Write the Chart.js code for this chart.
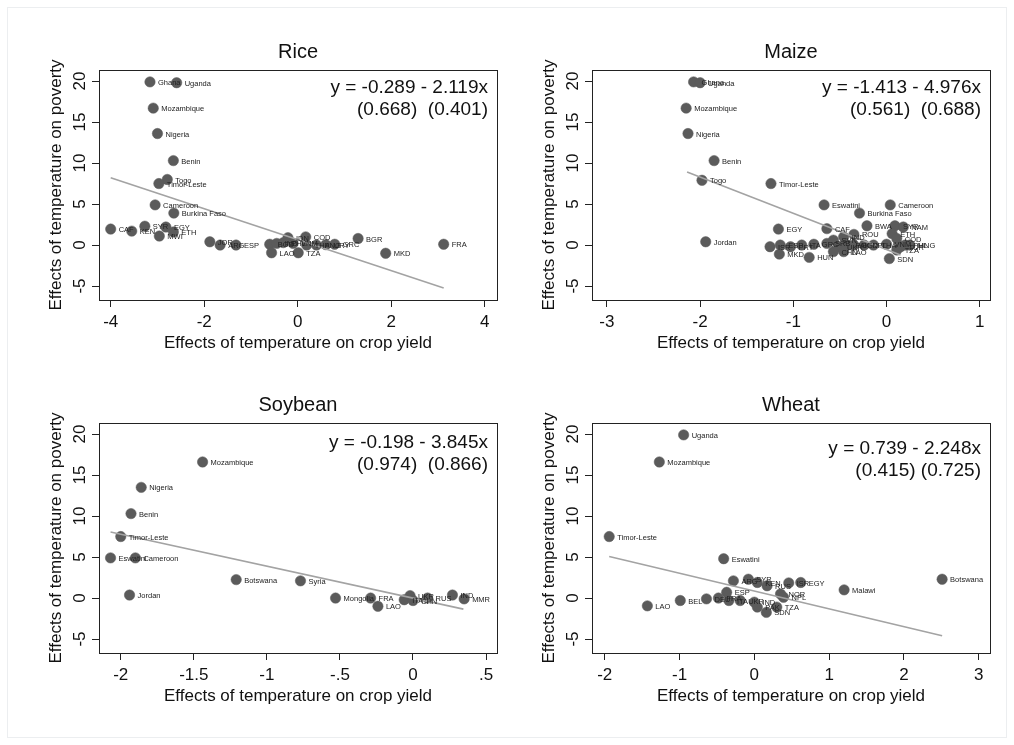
<!DOCTYPE html>
<html>
<head>
<meta charset="utf-8">
<script src="https://cdn.jsdelivr.net/npm/chart.js@4.4.1/dist/chart.umd.min.js"></script>
<style>
  body { margin: 0; background: #fff; }
  #fig { position: relative; width: 1014px; height: 745px; background: #fff; overflow: hidden; }
  #edge { position: absolute; left: 7px; top: 7px; width: 998px; height: 729px; border: 1px solid #eceef0; }
  canvas { position: absolute; }
</style>
</head>
<body>
<div id="fig">
  <div id="edge"></div>
  <canvas id="rice" width="507" height="380" style="left:0;top:0"></canvas>
  <canvas id="maize" width="507" height="380" style="left:493px;top:0"></canvas>
  <canvas id="soybean" width="507" height="380" style="left:0;top:353px"></canvas>
  <canvas id="wheat" width="507" height="380" style="left:493px;top:353px"></canvas>
</div>
<script>
// ---- data ----
const yTicks = [-5, 0, 5, 10, 15, 20];

const riceNames = ['Ghana','Uganda','Mozambique','Nigeria','Benin','Togo','Timor-Leste','Cameroon','Burkina Faso',
  'CAF','KEN','SYR','EGY','MWI','ETH','JOR','ARG','ESP','BGD','IND','PHL','IDN','VNM','LAO','TZA','COD','THA',
  'PNG','URY','GRC','BGR','MKD','FRA'];
const riceX = [-3.16,-2.59,-3.09,-3.0,-2.66,-2.79,-2.97,-3.05,-2.65,
  -4.0,-3.55,-3.27,-2.82,-2.96,-2.66,-1.88,-1.66,-1.32,-0.6,-0.45,-0.31,-0.21,-0.1,-0.56,0.01,0.17,0.19,
  0.4,0.6,0.79,1.29,1.88,3.12];
const riceY = [19.9,19.8,16.7,13.6,10.3,8.0,7.5,4.9,3.9,
  1.95,1.7,2.3,2.2,1.1,1.6,0.4,0.0,0.0,0.1,0.2,0.3,0.9,0.2,-0.94,-0.94,1.0,0.0,
  0.0,0.05,0.1,0.8,-1.0,0.1];
const riceFitX = [-4.0, 3.12];
const riceFitY = [8.2, -5.25];
const riceXTicks = [-4, -2, 0, 2, 4];
const riceXTickLabels = ['-4', '-2', '0', '2', '4'];

const maizeNames = ['Ghana','Uganda','Mozambique','Nigeria','Benin','Togo','Timor-Leste','Eswatini','Cameroon','Burkina Faso',
  'EGY','Jordan','BWA','SYR','NAM','CAF','ROU','ETH','COD','ISR','ESP','PRT','ITA','GRC','SRB','SVN','UKR','IND',
  'PAK','BGD','NPL','THA','VNM','TUR','PHL','MNG','MKD','HUN','LAO','CHN','SDN','TZA'];
const maizeX = [-2.07,-2.0,-2.15,-2.13,-1.85,-1.98,-1.24,-0.67,0.04,-0.29,
  -1.16,-1.94,-0.21,0.09,0.18,-0.64,-0.35,0.06,0.11,-1.25,-1.14,-1.03,-0.91,-0.78,-0.64,-0.57,-0.51,-0.46,
  -0.42,-0.35,-0.24,-0.14,0.0,0.15,0.2,0.25,-1.15,-0.83,-0.46,-0.57,0.03,0.11];
const maizeY = [19.9,19.8,16.7,13.6,10.3,7.9,7.5,4.9,4.9,3.9,
  1.95,0.4,2.35,2.35,2.2,2.0,1.3,1.4,0.8,-0.2,0.0,-0.2,0.0,0.1,0.2,0.6,-0.2,1.0,
  0.0,0.0,0.0,0.0,0.1,-0.2,0.0,0.0,-1.1,-1.5,-0.8,-0.8,-1.65,-0.6];
const maizeFitX = [-2.14, 0.15];
const maizeFitY = [8.9, -1.2];
const maizeXTicks = [-3, -2, -1, 0, 1];
const maizeXTickLabels = ['-3', '-2', '-1', '0', '1'];

const soyNames = ['Mozambique','Nigeria','Benin','Timor-Leste','Eswatini','Cameroon','Jordan','Botswana','Syria',
  'Mongolia','FRA','LAO','ITA','UKR','CHN','RUS','IND','MMR'];
const soyX = [-1.44,-1.86,-1.93,-2.0,-2.07,-1.90,-1.94,-1.21,-0.77,-0.53,-0.29,-0.24,-0.06,-0.02,0.0,0.1,0.27,0.35];
const soyY = [16.6,13.5,10.3,7.5,4.9,4.9,0.37,2.25,2.1,0.0,0.0,-1.0,-0.2,0.3,-0.3,0.0,0.37,-0.1];
const soyFitX = [-2.07, 0.345];
const soyFitY = [8.06, -1.35];
const soyXTicks = [-2, -1.5, -1, -0.5, 0, 0.5];
const soyXTickLabels = ['-2', '-1.5', '-1', '-.5', '0', '.5'];

const wheatNames = ['Uganda','Mozambique','Timor-Leste','Eswatini','Botswana','Malawi','LAO','BEL','DEU','FRA',
  'ESP','ARG','SYR','KEN','RUS','NOR','ISR','EGY','ITA','UKR','IND','PAK','SDN','TZA','NPL'];
const wheatX = [-0.945,-1.27,-1.94,-0.41,2.51,1.2,-1.43,-0.99,-0.64,-0.48,
  -0.37,-0.28,-0.08,0.04,0.17,0.35,0.46,0.62,-0.34,-0.19,0.0,0.04,0.16,0.3,0.39];
const wheatY = [19.9,16.6,7.5,4.8,2.3,1.0,-0.95,-0.3,-0.1,0.0,
  0.7,2.1,2.3,1.9,1.5,0.5,1.85,1.9,-0.3,-0.3,-0.5,-1.1,-1.75,-1.1,0.1];
const wheatFitX = [-1.94, 2.51];
const wheatFitY = [5.07, -4.6];
const wheatXTicks = [-2, -1, 0, 1, 2, 3];
const wheatXTickLabels = ['-2', '-1', '0', '1', '2', '3'];

const FONT = '"Liberation Sans", Arial, Helvetica, sans-serif';
Chart.defaults.font.family = FONT;

// point labels, plot frame and the fitted equation
const decorations = {
  id: 'decorations',
  afterDatasetsDraw(chart, args, opts) {
    const ctx = chart.ctx;
    const a = chart.chartArea;
    const meta = chart.getDatasetMeta(1);
    ctx.save();
    ctx.font = '7.5px ' + FONT;
    ctx.fillStyle = '#222';
    ctx.textBaseline = 'middle';
    ctx.textAlign = 'left';
    meta.data.forEach((pt, i) => {
      if (opts.names[i]) ctx.fillText(opts.names[i], pt.x + 8, pt.y + 1);
    });
    ctx.strokeStyle = '#222';
    ctx.lineWidth = 1;
    ctx.strokeRect(Math.round(a.left) + 0.5, Math.round(a.top) + 0.5,
      Math.round(a.right - a.left), Math.round(a.bottom - a.top));
    ctx.font = '19px ' + FONT;
    ctx.fillStyle = '#111';
    ctx.textAlign = 'right';
    ctx.fillText(opts.eq[0], a.right - 9, a.top + opts.eqY);
    ctx.fillText(opts.eq[1], a.right - 9, a.top + opts.eqY + 22);
    ctx.restore();
  }
};

function makePanel(id, title, names, xs, ys, fitX, fitY, xMin, xMax, xTicks, xTickLabels, eq, eqY) {
  new Chart(document.getElementById(id), {
    type: 'scatter',
    data: {
      datasets: [
        {
          data: fitX.map((x, i) => ({ x: x, y: fitY[i] })),
          showLine: true,
          borderColor: '#a3a3a3',
          borderWidth: 1.6,
          pointRadius: 0
        },
        {
          data: xs.map((x, i) => ({ x: x, y: ys[i] })),
          backgroundColor: '#5b5b5b',
          borderColor: '#5b5b5b',
          borderWidth: 0.5,
          pointRadius: 5.2
        }
      ]
    },
    options: {
      responsive: false,
      animation: false,
      events: [],
      layout: { padding: { left: 0, right: 10, top: 0, bottom: 0 } },
      plugins: {
        legend: { display: false },
        tooltip: { enabled: false },
        title: {
          display: true, text: title, fullSize: false, color: '#111',
          font: { size: 20, weight: 'normal' },
          padding: { top: 40, bottom: 6 }
        },
        decorations: { names: names, eq: eq, eqY: eqY }
      },
      scales: {
        x: {
          type: 'linear', min: xMin, max: xMax,
          afterBuildTicks: s => { s.ticks = xTicks.map(v => ({ value: v })); },
          afterFit: s => { s.height = 80; },
          ticks: {
            callback: (v, i) => xTickLabels[i],
            font: { size: 17 }, color: '#111', padding: 5,
            maxRotation: 0, autoSkip: false
          },
          grid: { drawOnChartArea: false, tickLength: 7, color: '#222' },
          border: { color: '#222' },
          title: {
            display: true, text: 'Effects of temperature on crop yield', color: '#111',
            font: { size: 17 }, padding: { top: 0, bottom: 26 }
          }
        },
        y: {
          type: 'linear', min: -6.7, max: 21.35,
          afterBuildTicks: s => { s.ticks = yTicks.map(v => ({ value: v })); },
          afterFit: s => { s.width = 99; },
          ticks: {
            minRotation: 90, maxRotation: 90, crossAlign: 'center',
            font: { size: 17 }, color: '#111', padding: 2, autoSkip: false
          },
          grid: { drawOnChartArea: false, tickLength: 7, color: '#222' },
          border: { color: '#222' },
          title: {
            display: true, text: 'Effects of temperature on poverty', color: '#111',
            font: { size: 17 }, padding: { top: 46, bottom: 0 }
          }
        }
      }
    },
    plugins: [decorations]
  });
}

makePanel('rice', 'Rice', riceNames, riceX, riceY, riceFitX, riceFitY, -4.25, 4.26,
  riceXTicks, riceXTickLabels, ['y = -0.289 - 2.119x', '(0.668)  (0.401)'], 18);
makePanel('maize', 'Maize', maizeNames, maizeX, maizeY, maizeFitX, maizeFitY, -3.16, 1.11,
  maizeXTicks, maizeXTickLabels, ['y = -1.413 - 4.976x', '(0.561)  (0.688)'], 18);
makePanel('soybean', 'Soybean', soyNames, soyX, soyY, soyFitX, soyFitY, -2.149, 0.575,
  soyXTicks, soyXTickLabels, ['y = -0.198 - 3.845x', '(0.974)  (0.866)'], 20);
makePanel('wheat', 'Wheat', wheatNames, wheatX, wheatY, wheatFitX, wheatFitY, -2.17, 3.15,
  wheatXTicks, wheatXTickLabels, ['y = 0.739 - 2.248x', '(0.415) (0.725)'], 26);
</script>
</body>
</html>
